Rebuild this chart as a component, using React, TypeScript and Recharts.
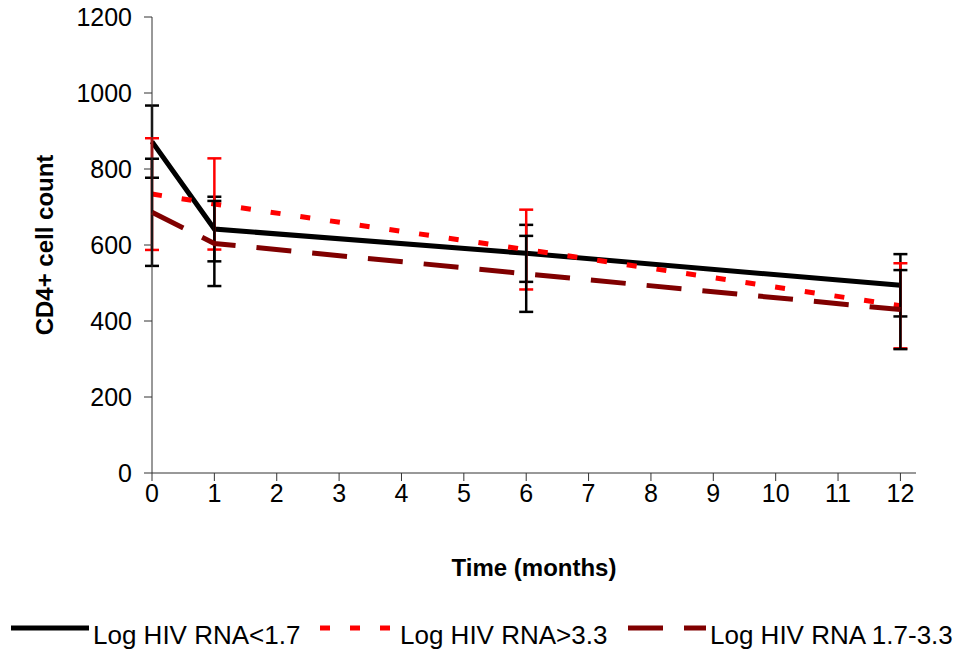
import React from 'react';
import { ErrorBar, Label, Legend, Line, LineChart, XAxis, YAxis } from 'recharts';

// Months of follow-up and CD4+ counts per viral-load group (mean ± error).
const months = [0, 1, 6, 12];
const lowVals = [872, 642, 578, 494];
const lowErr = [95, 85, 75, 82];
const highVals = [734, 708, 588, 440];
const highErr = [147, 120, 105, 112];
const midVals = [686, 604, 524, 430];
const midErr = [141, 112, 100, 104];

const xTicks = [0, 1, 2, 3, 4, 5, 6, 7, 8, 9, 10, 11, 12];
const yTicks = [0, 200, 400, 600, 800, 1000, 1200];

const SERIES = [
  { key: 'low', name: 'Log HIV RNA<1.7', color: '#000000', dash: undefined as string | undefined, err: '#000000' },
  { key: 'high', name: 'Log HIV RNA>3.3', color: '#FF0000', dash: '10 20', err: '#FF0000' },
  { key: 'mid', name: 'Log HIV RNA 1.7-3.3', color: '#800000', dash: '35 21', err: '#000000' },
];

const rows = months.map((m, i) => ({
  month: m,
  low: lowVals[i],
  lowE: lowErr[i],
  high: highVals[i],
  highE: highErr[i],
  mid: midVals[i],
  midE: midErr[i],
}));

const FONT = '"Liberation Sans", Arial, sans-serif';

// legend placement, page px
const LEG = [
  { line: 11, text: 93 },
  { line: 320, text: 400 },
  { line: 628, text: 710 },
];

function LegendRow() {
  return (
    <svg width={962} height={40} style={{ display: 'block' }}>
      {SERIES.map((s, i) => (
        <g key={s.key}>
          <line
            x1={LEG[i].line}
            x2={LEG[i].line + 78}
            y1={13}
            y2={13}
            stroke={s.color}
            strokeWidth={5}
            strokeDasharray={s.dash}
          />
          <text x={LEG[i].text} y={29} fontSize={26} fontFamily={FONT} fill="#000">
            {s.name}
          </text>
        </g>
      ))}
    </svg>
  );
}

export default function App() {
  return (
    <div style={{ width: 962, height: 655, background: '#fff' }}>
      <style>{'body{margin:0}'}</style>
      <LineChart
        width={962}
        height={655}
        data={rows}
        margin={{ top: 17, right: 46, bottom: 32, left: 42 }}
        style={{ fontFamily: FONT }}
      >
        <XAxis
          dataKey="month"
          type="number"
          domain={[0, 12.25]}
          ticks={xTicks}
          interval={0}
          height={110}
          tickSize={8}
          tickMargin={3}
          axisLine={{ stroke: '#333', strokeWidth: 1 }}
          tickLine={{ stroke: '#333', strokeWidth: 1 }}
          tick={{ fontSize: 25, fill: '#000' }}
        >
          <Label
            content={({ viewBox }: any) => (
              <text
                x={viewBox.x + viewBox.width / 2}
                y={576}
                textAnchor="middle"
                fontSize={24}
                fontWeight="bold"
                fill="#000"
                fontFamily={FONT}
              >
                Time (months)
              </text>
            )}
          />
        </XAxis>
        <YAxis
          type="number"
          domain={[0, 1200]}
          ticks={yTicks}
          interval={0}
          width={110}
          tickSize={8}
          tickMargin={12}
          axisLine={{ stroke: '#333', strokeWidth: 1 }}
          tickLine={{ stroke: '#333', strokeWidth: 1 }}
          tick={{ fontSize: 25, fill: '#000' }}
        >
          <Label
            content={() => (
              <text
                transform="rotate(-90 53 245)"
                textAnchor="middle"
                fontSize={24}
                fontWeight="bold"
                fill="#000"
                fontFamily={FONT}
              >
                <tspan x={53} y={245}>CD4+ cell count</tspan>
              </text>
            )}
          />
        </YAxis>
        <Legend
          content={() => <LegendRow />}
          wrapperStyle={{ position: 'absolute', left: 0, top: 615, width: 962 }}
        />
        {SERIES.map((s) => (
          <Line
            key={s.key}
            dataKey={s.key}
            name={s.name}
            type="linear"
            stroke={s.color}
            strokeWidth={5}
            strokeDasharray={s.dash}
            dot={false}
            activeDot={false}
            isAnimationActive={false}
          >
            <ErrorBar
              dataKey={`${s.key}E`}
              direction="y"
              width={7}
              stroke={s.err}
              strokeWidth={2.5}
              isAnimationActive={false}
            />
          </Line>
        ))}
      </LineChart>
    </div>
  );
}
